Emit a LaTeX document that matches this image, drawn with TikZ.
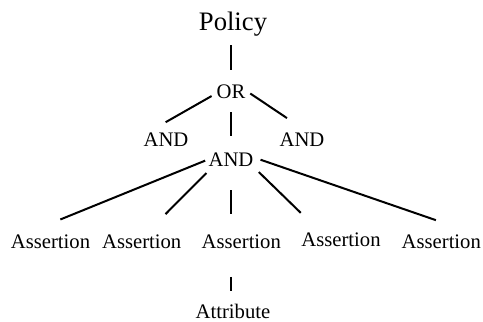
\documentclass[tikz,border=0pt]{standalone}
\usepackage{fontspec}
\setmainfont{Liberation Serif}

\begin{document}
\begin{tikzpicture}[x=0.75pt, y=-0.75pt, inner sep=1pt,
  word/.style={anchor=base, font=\fontsize{15.5}{18}\selectfont},
  link/.style={line width=1.5pt}]
  \useasboundingbox (0,0) rectangle (483,322);
  \node[anchor=base, font=\fontsize{20}{24}\selectfont] (policy) at (233,30) {Policy};
  \node[word] (or) at (231,98) {OR};
  \node[word] (andl) at (166,146.7) {AND};
  \node[word] (andr) at (302,146.7) {AND};
  \node[word] (andm) at (231,166.7) {AND};
  \foreach \i/\x/\y in {1/50.5/248.3, 2/141.7/248.3, 3/241.3/248.3,
                        4/341/246.7, 5/441.3/248.3}{%
    \node[word] (asrt\i) at (\x,\y) {Assertion};}
  \node[word] (attr) at (233,318.5) {Attribute};
  % tree edges
  \draw[link, shorten <=6pt, shorten >=9.5pt] (policy.south -| or.north) -- (or.north);
  \draw[link, shorten <=3pt, shorten >=14pt] (or.190) -- (andl.153);
  \draw[link, shorten <=3pt, shorten >=18pt] (or.east) -- (andr.60);
  \draw[link, shorten <=9.3pt, shorten >=11.8pt] (or) -- (andm);
  \foreach \i/\from/\to/\s/\e in {1/west/160/1.5pt/27pt, 2/203/60/5pt/20pt,
                                  4/south east/158/4pt/20pt, 5/5/15/4.4pt/29.6pt}{%
    \draw[link, shorten <=\s, shorten >=\e] (andm.\from) -- (asrt\i.\to);}
  \draw[link, shorten <=16.5pt, shorten >=14pt] (andm.south) -- (andm.south |- asrt3.north);
  \draw[link, shorten <=20pt, shorten >=8.6pt] (asrt3.south -| andm.south) -- (andm.south |- attr.north);
\end{tikzpicture}
\end{document}
